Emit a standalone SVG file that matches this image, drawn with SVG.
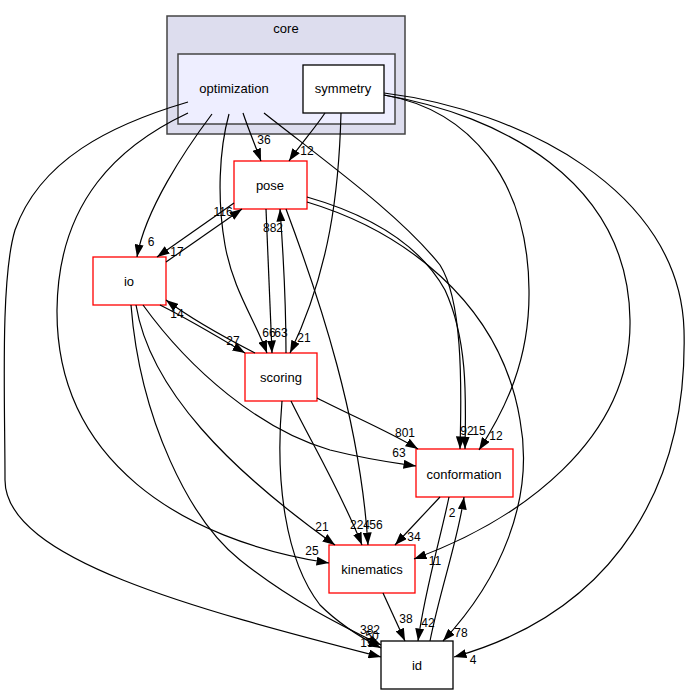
<svg xmlns="http://www.w3.org/2000/svg" width="688" height="695" viewBox="0 0 688 695">
<style>
text{font-family:"Liberation Sans",Arial,Helvetica,sans-serif;fill:#000}
.n{font-size:13px;text-anchor:middle}
.l{font-size:12px;text-anchor:middle}
.red{fill:#fff;stroke:#ff0000;stroke-width:1.3}
.blk{fill:#fff;stroke:#000;stroke-width:1.3}
.e{fill:none;stroke:#000;stroke-width:1.2;marker-end:url(#a)}
</style>
<defs>
<marker id="a" markerWidth="13" markerHeight="9" refX="12.5" refY="4.5" orient="auto" markerUnits="userSpaceOnUse" viewBox="0 0 13 9">
<path d="M0,0 L12.5,4.5 L0,9 z" fill="#000"/>
</marker>
</defs>
<rect width="688" height="695" fill="#fff"/>
<g id="cluster-core">
<rect x="167" y="16" width="238" height="118" fill="#ddddee" stroke="#444" stroke-width="1.5"/>
<text class="n" x="286" y="33">core</text>
</g>
<g id="cluster-optimization">
<rect x="178" y="54" width="217" height="70" fill="#eeeeff" stroke="#444" stroke-width="1.5"/>
<text class="n" x="234" y="93">optimization</text>
</g>
<g id="node-symmetry">
<rect x="303" y="65" width="81" height="48" class="blk"/>
<text class="n" x="343" y="93">symmetry</text>
</g>
<g id="node-pose">
<rect x="234" y="161" width="73" height="48" class="red"/>
<text class="n" x="270" y="190">pose</text>
</g>
<g id="node-io">
<rect x="93" y="257" width="73" height="48" class="red"/>
<text class="n" x="129" y="286">io</text>
</g>
<g id="node-scoring">
<rect x="245" y="353" width="72" height="48" class="red"/>
<text class="n" x="281" y="382">scoring</text>
</g>
<g id="node-conformation">
<rect x="416" y="449" width="97" height="48" class="red"/>
<text class="n" x="464" y="479">conformation</text>
</g>
<g id="node-kinematics">
<rect x="329" y="545" width="86" height="48" class="red"/>
<text class="n" x="372" y="574">kinematics</text>
</g>
<g id="node-id">
<rect x="381" y="641" width="72" height="48" class="blk"/>
<text class="n" x="417" y="670">id</text>
</g>
<g id="edges">
<path class="e" d="M212,114 C185,150 145,210 137,257"/>
<text class="l" x="151" y="246">6</text>
<path class="e" d="M243,113 C248,128 255,145 261,161"/>
<text class="l" x="264" y="144">36</text>
<path class="e" d="M229,114 C219,150 217,200 225,245 C233,290 255,320 267,353"/>
<text class="l" x="269" y="337">66</text>
<path class="e" d="M264,113 C330,165 400,215 440,265 C462,300 462,380 460,449"/>
<text class="l" x="467" y="435">92</text>
<path class="e" d="M307,197 C370,215 420,245 445,290 C468,340 466,400 465,449"/>
<text class="l" x="479" y="435">15</text>
<path class="e" d="M384,95 C470,110 528,180 529,290 C530,360 505,410 479,450"/>
<text class="l" x="496" y="440">12</text>
<path class="e" d="M384,95 C500,115 628,180 630,320 C632,440 520,520 414,559"/>
<text class="l" x="435" y="565">11</text>
<path class="e" d="M384,93 C520,110 680,190 684,330 C688,480 620,610 454,657"/>
<text class="l" x="473" y="664">4</text>
<path class="e" d="M325,113 C315,128 300,145 289,161"/>
<text class="l" x="307" y="155">12</text>
<path class="e" d="M341,113 C339,190 330,270 290,353"/>
<text class="l" x="304" y="342">21</text>
<path class="e" d="M188,113 C120,145 58,200 57,310 C56,460 180,540 329,563"/>
<text class="l" x="312" y="555">25</text>
<path class="e" d="M188,102 C110,125 40,160 15,230 C0,280 5,400 5,480 C5,560 200,610 381,657"/>
<text class="l" x="367" y="647">15</text>
<path class="e" d="M131,305 C140,420 190,520 240,560 C290,600 340,625 381,645"/>
<text class="l" x="372" y="640">50</text>
<path class="e" d="M282,401 C275,480 285,560 320,605 C340,625 360,637 381,648"/>
<text class="l" x="370" y="634">382</text>
<path class="e" d="M136,305 C150,390 230,470 335,545"/>
<text class="l" x="322" y="531">21</text>
<path class="e" d="M143,305 C190,370 260,430 330,450 C370,460 395,463 416,466"/>
<text class="l" x="399" y="457">63</text>
<path class="e" d="M166,262 L242,209"/>
<text class="l" x="223" y="216">116</text>
<path class="e" d="M234,203 L157,257"/>
<text class="l" x="177" y="256">17</text>
<path class="e" d="M160,305 C190,320 220,338 245,353"/>
<text class="l" x="233" y="345">27</text>
<path class="e" d="M255,353 C220,335 190,318 166,300"/>
<text class="l" x="177" y="318">14</text>
<path class="e" d="M266,209 C268,260 270,310 272,353"/>
<text class="l" x="281" y="337">63</text>
<path class="e" d="M286,353 C286,300 283,250 280,209"/>
<text class="l" x="273" y="232">882</text>
<path class="e" d="M286,209 C320,300 360,420 368,545"/>
<text class="l" x="376" y="529">56</text>
<path class="e" d="M291,401 C310,440 340,490 362,545"/>
<text class="l" x="360" y="529">224</text>
<path class="e" d="M317,398 C350,415 390,432 418,449"/>
<text class="l" x="405" y="437">801</text>
<path class="e" d="M440,497 L395,545"/>
<text class="l" x="414" y="541">34</text>
<path class="e" d="M449,497 C440,540 425,590 418,641"/>
<text class="l" x="428" y="627">42</text>
<path class="e" d="M430,641 C440,590 458,540 464,497"/>
<text class="l" x="452" y="517">2</text>
<path class="e" d="M383,593 L405,641"/>
<text class="l" x="406" y="623">38</text>
<path class="e" d="M307,202 C400,230 500,300 520,420 C535,500 500,580 443,641"/>
<text class="l" x="461" y="637">78</text>
</g>
</svg>
